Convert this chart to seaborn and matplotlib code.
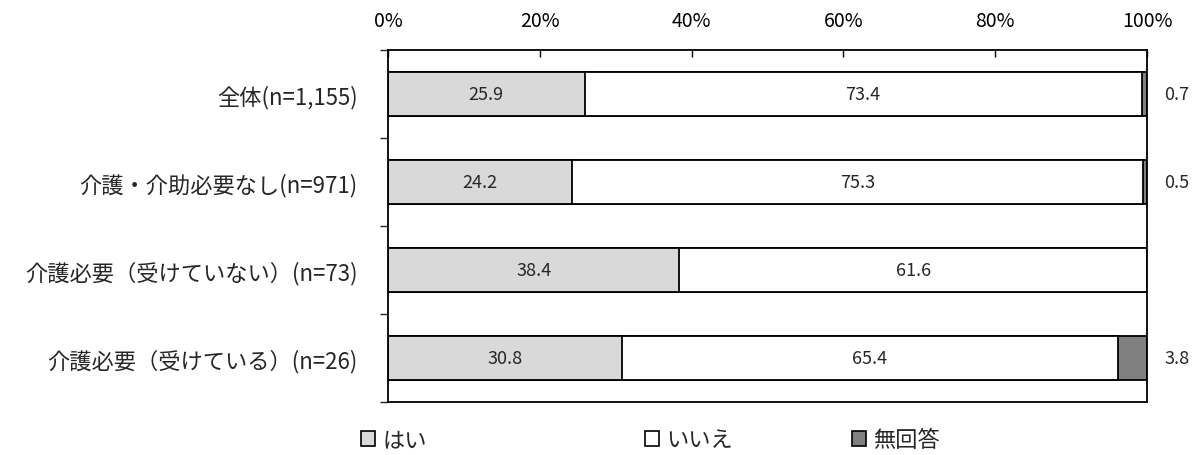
import matplotlib
matplotlib.use("Agg")
import matplotlib.pyplot as plt
import numpy as np
import seaborn as sns

sns.set_style("white")
plt.rcParams['font.family'] = ['Noto Sans CJK JP', 'DejaVu Sans']

categories = ["全体(n=1,155)", "介護・介助必要なし(n=971)",
              "介護必要（受けていない）(n=73)", "介護必要（受けている）(n=26)"]
hai = [25.9, 24.2, 38.4, 30.8]
iie = [73.4, 75.3, 61.6, 65.4]
mukaitou = [0.7, 0.5, 0.0, 3.8]
series_names = ["はい", "いいえ", "無回答"]
colours = ["#d9d9d9", "#ffffff", "#808080"]

fig = plt.figure(figsize=(11.96, 4.56), dpi=100)
ax = fig.add_axes([388 / 1196, 1 - 403 / 456, (1147 - 388) / 1196, (403 - 51) / 456])

hai = np.array(hai)
iie = np.array(iie)
mukaitou = np.array(mukaitou)
cum_total = hai + iie + mukaitou
cum_two = hai + iie

# layered bars: the longest first, then cover with shorter ones
for vals, col in [(cum_total, colours[2]), (cum_two, colours[1]), (hai, colours[0])]:
    sns.barplot(x=vals, y=categories, orient="h", color=col, saturation=1,
                edgecolor="black", linewidth=1.3, width=0.5, ax=ax)

# value labels
for i in range(len(categories)):
    ax.text(hai[i] / 2, i, f"{hai[i]:.1f}", ha="center", va="center", fontsize=13)
    ax.text(hai[i] + iie[i] / 2, i, f"{iie[i]:.1f}", ha="center", va="center", fontsize=13)
    if mukaitou[i] > 0:
        ax.text(102.3, i, f"{mukaitou[i]:.1f}", ha="left", va="center",
                fontsize=13, clip_on=False)

ax.set_xlim(0, 100)
ax.set_ylim(3.5, -0.5)
ax.set_xticks([0, 20, 40, 60, 80, 100])
ax.set_xticklabels([f"{t}%" for t in [0, 20, 40, 60, 80, 100]], fontsize=14)
ax.xaxis.tick_top()
ax.tick_params(axis="x", direction="in", length=5, width=1, pad=14, colors="black")
ax.set_yticks([-0.5, 0.5, 1.5, 2.5, 3.5], minor=True)
ax.tick_params(axis="y", which="major", length=0, pad=22, labelsize=16)
ax.tick_params(axis="y", which="minor", left=True, direction="out", length=6, width=1)
ax.set_xlabel("")
ax.set_ylabel("")
for s in ax.spines.values():
    s.set_visible(True)
    s.set_color("black")
    s.set_linewidth(1.3)

# legend, one entry at a time to keep the original spacing
legend_x = [361, 645, 852]
for name, col, lx in zip(series_names, colours, legend_x):
    h = plt.Rectangle((0, 0), 1, 1, facecolor=col, edgecolor="black", linewidth=1.2)
    leg = fig.legend([h], [name], loc="center left",
                     bbox_to_anchor=(lx / 1196, 1 - 441 / 456), frameon=False,
                     handlelength=0.65, handleheight=0.65, handletextpad=0.3,
                     borderaxespad=0, borderpad=0, fontsize=16)

fig.savefig("out.png", dpi=100)
